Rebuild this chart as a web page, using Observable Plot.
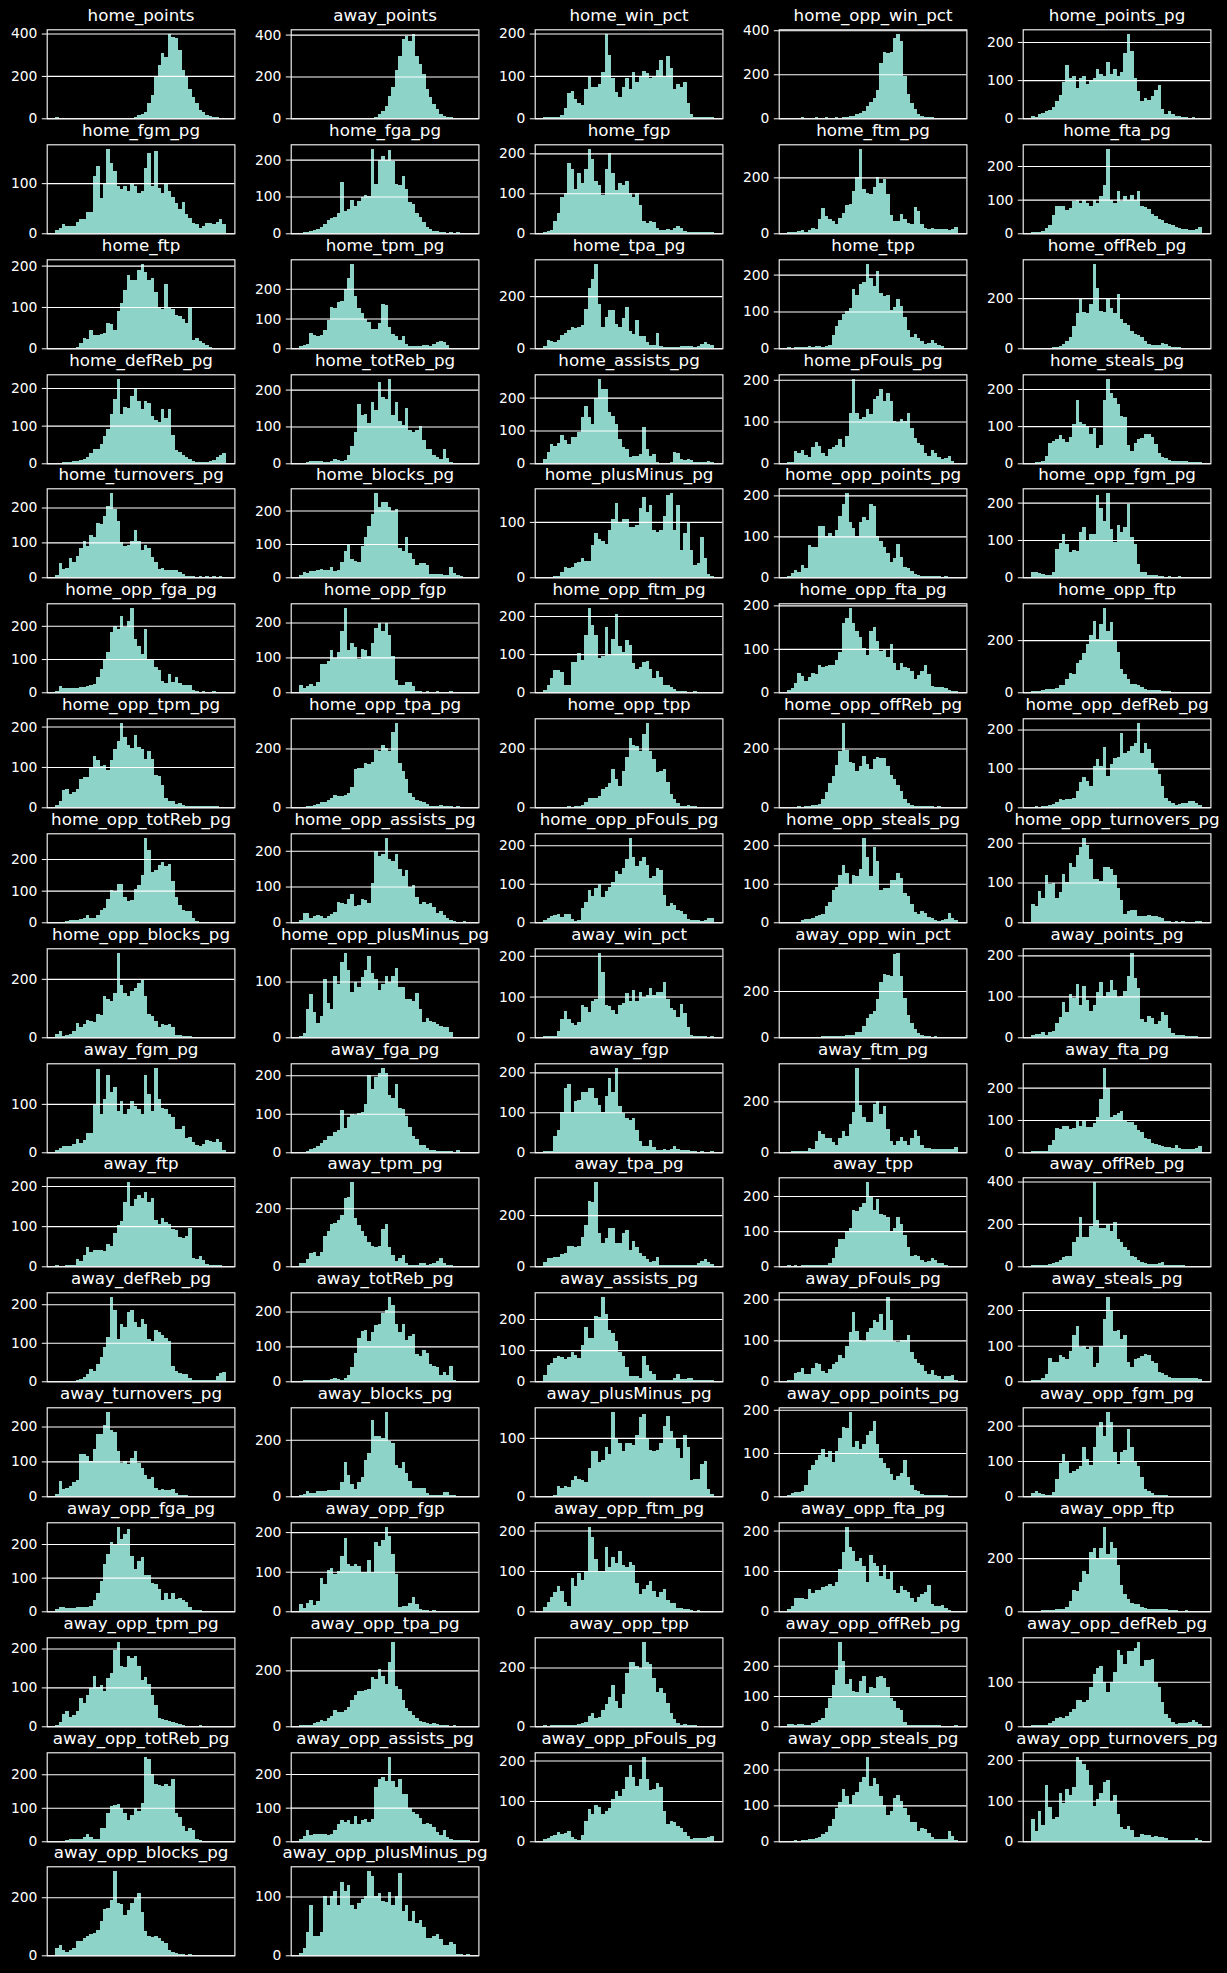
<!DOCTYPE html>
<html><head><meta charset="utf-8">
<script src="https://cdn.jsdelivr.net/npm/d3@7"></script>
<script src="https://cdn.jsdelivr.net/npm/@observablehq/plot@0.6"></script>
<style>
html,body{margin:0;padding:0;background:#000;}
#fig{position:relative;width:1227px;height:1973px;background:#000;overflow:hidden;}
#fig svg{position:absolute;overflow:visible;max-width:none;}
</style></head>
<body><div id="fig"></div>
<script>
const home_points = [4,0,0,0,0,0,0,0,0,0,0,0,0,0,0,0,0,0,0,0,0,2,3,6,15,18,30,70,110,200,250,310,290,400,385,380,320,230,200,140,100,70,40,30,15,10,6,4,3,3];
const away_points = [3,0,0,0,0,0,0,0,0,0,0,0,0,0,0,0,0,0,0,0,0,3,5,20,35,60,105,150,230,300,380,395,370,405,300,260,210,140,100,70,45,22,12,6,4,3,2,2,1,1];
const home_win_pct = [3,3,3,2,3,8,25,60,65,45,35,32,70,100,75,75,80,110,200,150,95,62,50,75,95,70,110,85,100,112,108,95,100,115,138,100,148,118,70,80,75,85,35,10,4,3,4,3,2,2];
const home_opp_win_pct = [3,3,2,3,4,3,2,3,4,3,2,4,3,3,4,3,4,8,10,12,18,25,35,55,75,90,130,250,300,295,300,365,385,350,190,110,70,40,20,12,8,5,4,3,3,2,2,2,1,1];
const home_points_pg = [5,4,10,15,18,22,30,45,60,95,140,105,110,80,105,110,90,100,105,130,115,110,148,115,128,110,120,170,222,175,105,72,45,52,48,58,75,88,25,12,20,10,6,5,4,3,2,3,2,2];
const home_fgm_pg = [6,10,18,15,14,15,22,28,28,42,42,115,135,70,100,169,140,125,95,88,95,85,100,95,80,85,130,160,95,165,90,80,100,85,72,60,48,62,38,30,20,18,11,14,20,21,19,22,28,18];
const home_fga_pg = [2,3,4,5,8,12,18,24,35,42,45,55,140,60,65,90,75,88,98,105,100,230,135,200,210,200,225,195,135,130,155,120,85,80,55,45,32,18,12,7,5,4,3,2,3,2,3,2,2,1];
const home_fgp = [3,5,8,30,50,90,100,175,160,110,150,125,160,212,185,130,120,95,160,200,150,108,125,120,130,100,90,100,70,30,25,30,28,14,9,9,10,8,12,18,12,5,4,3,3,2,2,3,2,3];
const home_ftm_pg = [3,3,5,8,10,6,12,18,15,50,90,62,52,45,32,55,72,100,105,150,200,303,160,145,140,165,200,180,195,140,65,45,45,68,52,38,35,95,80,35,20,15,18,16,17,14,16,10,15,22];
const home_fta_pg = [4,4,5,8,15,25,55,80,80,80,70,75,95,100,90,100,90,80,100,90,110,145,252,100,90,125,95,110,100,115,100,125,80,78,72,58,52,42,40,30,28,25,18,15,13,12,10,11,14,18];
const home_ftp = [1,0,0,0,1,1,2,12,26,22,45,33,33,35,36,60,58,45,90,110,140,178,165,165,190,205,185,165,170,135,100,95,155,100,95,80,78,70,60,100,20,25,18,14,8,2,1,0,0,1];
const home_tpm_pg = [8,12,15,50,45,40,45,60,95,140,135,155,160,200,235,285,175,135,120,100,90,65,65,85,150,145,70,48,40,28,42,15,9,9,9,9,12,10,9,14,20,25,22,12,1,0,1,0,0,1];
const home_tpa_pg = [8,30,28,26,32,50,60,70,80,78,82,90,150,230,265,325,170,80,120,145,148,95,82,115,158,65,55,110,48,48,25,12,12,60,7,6,5,6,5,6,10,8,9,7,5,8,18,24,18,12];
const home_tpp = [3,2,4,3,3,4,5,4,5,5,4,5,10,35,60,78,92,100,110,160,145,175,180,230,190,170,210,150,142,145,105,112,135,115,85,50,30,38,28,20,13,15,22,15,8,5,2,1,1,1];
const home_offReb_pg = [3,3,3,2,3,3,4,5,8,18,28,45,90,140,200,145,140,175,338,240,150,145,195,160,140,215,115,100,92,68,58,52,45,28,18,13,12,14,22,18,8,5,5,4,3,2,2,2,1,2];
const home_defReb_pg = [2,2,3,4,4,6,7,8,12,18,28,38,38,50,72,90,130,170,225,130,150,148,178,200,165,145,165,160,125,115,110,145,120,145,75,35,30,22,18,12,5,4,4,4,4,5,8,18,22,28];
const home_totReb_pg = [2,2,3,5,6,5,5,4,3,5,12,8,5,10,22,48,85,160,130,135,110,165,145,220,180,175,230,130,165,115,105,150,90,85,90,100,62,38,40,22,17,11,40,15,3,2,1,1,0,1];
const home_assists_pg = [12,35,60,52,62,85,70,60,80,80,95,140,175,140,120,200,258,225,225,155,145,120,75,50,45,18,22,22,28,110,45,22,28,5,2,2,2,5,35,30,12,10,14,10,5,4,5,5,6,5];
const home_pFouls_pg = [4,3,30,25,32,20,15,40,52,42,25,18,35,40,45,58,38,65,120,203,120,105,110,130,118,155,160,178,150,168,150,102,98,105,102,120,85,60,48,45,25,18,32,25,14,11,13,18,5,1];
const home_steals_pg = [2,3,3,7,20,55,60,65,75,65,58,70,105,170,110,105,100,80,95,40,50,170,228,190,175,160,128,125,50,32,55,65,68,80,80,70,52,28,17,15,8,7,7,6,6,5,4,4,4,3];
const home_turnovers_pg = [8,42,25,28,55,45,60,85,105,90,120,115,155,152,175,205,243,195,160,100,90,92,105,135,105,78,92,85,58,45,25,28,22,22,22,20,15,9,5,4,3,2,3,2,3,2,3,2,3,2];
const home_blocks_pg = [7,15,14,18,18,22,26,22,22,32,20,22,45,80,100,55,50,45,95,120,155,190,254,210,225,225,210,198,205,88,78,120,72,55,38,42,42,38,10,9,9,9,7,8,30,12,6,4,2,2];
const home_plusMinus_pg = [1,1,1,2,2,10,18,17,18,25,28,35,30,30,58,80,70,65,60,85,105,135,100,105,105,90,90,95,125,145,118,130,85,82,85,110,148,153,85,130,50,80,100,50,22,25,72,35,6,2];
const home_opp_points_pg = [4,10,18,12,30,22,78,75,75,125,125,100,108,100,115,150,180,207,135,120,100,135,148,140,180,175,100,88,75,60,38,48,82,50,25,22,15,9,5,3,2,2,4,3,2,1,2,1,1,1];
const home_opp_fgm_pg = [13,13,12,8,5,5,15,75,92,115,90,68,72,70,120,135,100,115,115,220,185,150,227,130,95,140,120,135,195,108,90,35,15,15,6,5,5,4,3,2,3,2,2,3,2,1,1,1,1,1];
const home_opp_fga_pg = [4,18,13,12,13,12,14,15,16,20,21,25,45,70,100,120,180,200,190,230,195,215,255,160,140,115,190,100,98,75,68,35,28,55,30,45,28,22,22,22,8,3,2,3,2,2,3,2,2,2];
const home_opp_fgp = [22,13,18,25,17,30,82,80,90,120,98,115,175,243,120,140,130,95,125,120,105,140,185,200,175,200,165,105,35,22,22,30,30,18,5,3,2,3,2,2,3,2,2,2,3,2,2,2,2,2];
const home_opp_ftm_pg = [6,18,38,58,58,52,20,20,80,80,102,85,150,222,175,150,90,95,170,100,140,205,120,105,138,125,78,60,65,80,82,60,38,55,40,20,18,15,8,3,4,3,2,2,3,2,2,2,2,2];
const home_opp_fta_pg = [5,10,22,45,38,25,35,45,42,62,58,60,62,62,75,92,160,172,195,160,140,128,102,85,140,150,118,95,100,82,110,68,52,68,58,55,48,30,40,50,62,42,15,12,12,13,10,5,3,2];
const home_opp_ftp = [4,4,5,9,14,13,14,18,28,28,50,75,70,112,125,150,185,220,275,205,260,325,235,270,200,155,88,70,50,30,30,28,21,14,10,10,10,9,6,5,4,3,3,3,2,2,2,2,1,1];
const home_opp_tpm_pg = [6,15,42,45,32,38,45,70,75,75,100,128,118,102,105,92,118,145,165,210,175,155,148,180,150,145,120,140,120,80,78,55,23,15,16,9,11,6,3,3,2,2,2,3,2,2,2,2,1,1];
const home_opp_tpa_pg = [2,2,3,3,8,10,17,18,25,32,42,38,38,42,48,70,130,132,135,152,148,155,195,190,210,200,190,255,288,150,125,95,50,35,26,20,18,10,6,6,6,8,6,4,3,2,3,2,2,2];
const home_opp_tpp = [1,2,1,2,2,2,2,3,2,4,4,7,18,30,30,30,40,62,70,82,130,95,72,125,170,235,210,208,190,250,288,190,165,120,125,130,85,45,28,14,6,5,7,5,3,2,2,1,1,1];
const home_opp_offReb_pg = [2,2,2,3,2,3,4,9,9,11,28,52,82,105,145,190,288,195,155,150,125,140,175,148,130,165,170,168,168,140,110,97,75,55,28,16,9,5,4,3,3,4,3,2,3,2,2,2,2,1];
const home_opp_defReb_pg = [2,3,2,3,3,6,9,14,22,18,22,22,24,42,65,78,68,55,105,125,105,155,80,112,128,130,190,140,145,158,165,218,140,165,150,115,100,85,55,25,15,12,6,8,12,12,15,15,10,5];
const home_opp_totReb_pg = [2,2,2,3,8,8,7,9,15,22,14,13,22,38,45,75,102,100,120,120,80,68,70,105,118,150,268,230,160,165,180,190,178,185,130,80,55,40,35,35,15,5,2,1,1,0,0,0,0,1];
const home_opp_assists_pg = [6,25,25,12,18,20,18,13,18,22,28,58,55,52,65,80,45,48,65,62,55,110,200,185,190,237,178,170,190,150,130,145,100,105,70,50,58,50,55,42,25,32,20,11,6,3,2,2,3,1];
const home_opp_pFouls_pg = [5,10,16,18,21,14,22,22,8,4,5,38,52,85,68,90,100,65,80,92,105,132,125,140,165,220,170,145,160,170,148,115,120,140,135,70,42,50,45,32,30,22,8,5,6,7,4,6,12,10];
const home_opp_steals_pg = [1,1,1,2,5,9,9,11,17,18,22,42,52,85,92,122,150,128,100,122,120,138,220,170,120,195,160,85,88,90,110,110,128,115,75,68,48,28,22,30,25,14,10,5,3,5,8,25,12,6];
const home_opp_turnovers_pg = [45,42,78,60,120,95,98,62,75,122,102,150,138,170,190,213,195,160,110,108,103,138,140,135,118,85,55,22,28,30,30,16,16,16,19,16,15,14,10,3,3,2,3,2,3,2,2,2,4,3];
const home_opp_blocks_pg = [12,22,6,9,12,22,50,35,45,58,57,52,78,75,140,130,125,150,290,180,150,142,160,170,185,195,140,80,72,55,35,45,42,45,35,9,7,4,3,3,2,2,1,1,1,2,1,1,0,1];
const home_opp_plusMinus_pg = [2,8,50,78,45,25,38,105,62,50,110,95,135,152,120,82,100,90,108,120,145,115,105,85,95,110,100,110,125,90,90,68,68,65,80,50,28,35,30,28,24,20,18,18,10,0,0,0,0,1];
const away_win_pct = [2,2,2,3,15,45,65,45,35,30,38,80,75,62,88,95,208,160,80,78,68,58,80,85,108,90,115,88,110,100,105,120,105,110,112,135,95,72,68,50,82,60,25,6,3,2,2,2,1,2];
const away_opp_win_pct = [3,1,1,2,1,2,2,2,2,2,5,6,6,7,6,7,7,8,8,12,22,25,48,85,100,112,165,240,275,270,265,360,366,265,170,95,60,35,18,9,5,4,3,4,3,3,2,2,2,2];
const away_points_pg = [5,7,8,12,6,12,16,35,50,85,62,105,95,130,80,125,90,65,80,110,135,100,110,140,115,98,100,112,150,207,145,120,45,38,52,48,32,40,62,55,22,11,6,5,5,4,4,3,3,1];
const away_fgm_pg = [4,9,14,13,12,18,28,20,25,40,40,100,172,80,110,160,125,135,85,105,80,90,105,95,90,80,160,120,85,175,110,92,90,80,72,48,48,55,30,32,22,15,14,18,25,24,22,28,22,5];
const away_fga_pg = [2,2,3,8,12,16,23,32,42,42,52,58,110,62,92,100,98,102,105,125,200,165,195,205,220,205,150,140,178,115,112,95,65,42,35,20,18,10,6,5,4,3,3,3,3,2,5,2,2,2];
const away_fgp = [2,2,4,40,55,100,160,170,100,128,132,150,150,160,160,135,118,100,140,185,150,212,115,98,85,82,85,55,28,15,15,30,14,6,6,7,6,8,17,9,5,5,5,4,2,1,2,1,1,2];
const away_ftm_pg = [3,4,4,5,4,5,16,12,45,85,70,55,58,42,28,55,85,65,110,160,333,185,140,120,118,190,200,150,180,92,45,28,45,62,45,28,55,88,65,28,15,15,13,12,11,12,11,12,12,22];
const away_fta_pg = [3,3,4,4,5,22,38,75,72,80,80,72,75,100,80,100,78,78,92,110,165,262,200,108,115,120,128,100,95,95,85,68,62,45,40,30,25,22,18,17,15,14,22,12,10,10,10,10,12,18];
const away_ftp = [2,1,1,2,2,4,18,14,28,48,35,40,40,40,38,55,50,82,102,112,160,211,150,168,178,170,185,160,170,115,105,120,110,105,92,90,72,70,75,95,20,18,25,15,6,3,2,2,2,1];
const away_tpm_pg = [10,13,25,45,48,35,50,105,120,145,150,160,178,235,240,292,165,142,120,105,85,70,65,70,130,145,65,40,18,28,40,10,5,5,6,12,10,6,8,10,18,30,12,6,3,2,2,2,1,2];
const away_tpa_pg = [15,32,32,35,38,48,52,80,80,75,78,115,160,255,250,331,130,92,110,150,150,92,92,130,140,65,100,75,52,42,30,18,20,35,6,6,6,7,6,7,6,7,6,6,7,12,22,28,18,10];
const away_tpp = [3,2,3,2,3,4,4,3,5,4,5,4,8,25,55,78,78,98,110,160,158,170,180,241,200,160,190,150,145,140,100,110,140,120,90,55,28,32,28,18,11,15,24,18,10,8,5,2,1,2];
const away_offReb_pg = [5,6,5,5,6,9,14,18,28,42,48,48,115,140,235,140,140,190,400,220,180,180,200,165,210,128,115,92,75,50,42,28,18,14,13,10,10,14,18,8,5,5,5,4,4,2,2,2,2,1];
const away_defReb_pg = [2,2,2,2,2,2,3,6,12,20,32,28,45,62,90,115,220,185,110,150,140,180,185,155,140,162,150,110,105,132,128,120,112,105,40,28,22,20,18,8,4,4,3,4,3,4,4,15,22,25];
const away_totReb_pg = [2,3,3,4,4,3,4,3,4,6,9,6,4,9,18,42,80,125,145,148,115,142,162,165,195,205,243,218,165,142,165,118,130,135,78,72,90,80,50,45,40,18,28,18,45,4,1,1,0,1];
const away_assists_pg = [20,52,58,75,82,78,72,78,95,85,75,115,175,140,140,210,205,272,215,165,155,130,95,82,45,18,18,17,12,80,52,32,22,4,4,3,4,4,12,22,8,6,9,11,4,3,3,3,3,3];
const away_pFouls_pg = [4,4,20,22,32,18,18,32,45,42,25,20,30,42,48,65,58,85,120,170,122,102,98,120,130,150,145,165,125,207,150,98,95,100,100,112,72,55,45,40,25,18,28,15,12,6,14,14,15,3];
const away_steals_pg = [4,4,5,9,20,65,55,55,75,68,62,85,130,155,95,100,92,95,40,50,100,175,238,198,140,145,120,130,55,40,62,65,72,78,75,58,52,27,22,17,11,8,8,8,8,10,10,10,10,6];
const away_turnovers_pg = [8,45,22,25,30,42,48,120,120,115,100,135,178,180,205,243,190,185,130,95,100,92,110,130,95,80,62,50,55,25,18,22,17,18,20,9,5,4,3,2,2,2,2,2,2,2,2,1,2,1];
const away_blocks_pg = [4,8,17,12,12,18,18,18,22,22,22,22,50,120,75,45,25,50,70,130,155,270,215,212,208,300,195,190,110,100,120,82,55,28,28,28,28,10,5,5,5,5,15,15,4,3,2,1,1,1];
const away_plusMinus_pg = [1,1,1,2,18,15,18,16,28,35,30,28,25,48,78,78,58,62,85,72,145,100,92,78,92,92,88,105,135,140,98,80,78,80,92,120,138,112,100,82,65,105,85,28,30,30,55,60,12,4];
const away_opp_points_pg = [3,8,10,11,12,25,60,72,85,95,110,90,105,80,105,135,160,158,196,115,128,110,122,142,150,175,120,88,78,65,52,38,48,55,85,45,25,15,12,5,3,2,3,2,3,2,3,1,1,1];
const away_opp_fgm_pg = [10,14,8,6,5,5,12,50,95,120,100,65,72,78,85,140,105,90,140,195,210,170,240,210,125,92,125,130,190,140,97,85,55,22,15,9,4,4,4,3,2,2,1,2,1,1,1,1,1,1];
const away_opp_fga_pg = [8,12,14,11,11,11,12,12,13,14,15,35,55,90,140,170,205,200,252,215,230,245,165,125,150,160,108,108,85,82,65,35,55,38,55,38,40,35,28,12,4,4,3,2,1,1,1,1,1,1];
const away_opp_fgp = [18,8,22,28,16,25,85,70,105,110,95,102,140,185,120,115,120,115,98,100,130,98,175,165,180,214,190,145,95,12,14,14,22,35,18,5,4,3,2,3,1,1,1,1,1,1,1,1,1,1];
const away_opp_ftm_pg = [10,22,35,48,62,50,22,12,82,62,95,78,100,210,185,130,100,98,160,110,135,120,150,115,110,122,115,70,42,55,65,75,50,35,48,55,28,20,20,9,8,5,5,2,1,2,1,1,1,1];
const away_opp_fta_pg = [5,12,32,32,32,30,55,45,52,52,60,62,68,62,72,105,148,210,160,150,125,132,112,72,140,120,112,88,115,80,100,52,45,62,52,48,32,22,35,42,48,65,18,14,13,15,9,4,1,1];
const away_opp_ftp = [3,3,3,5,5,5,6,7,8,10,18,38,80,75,110,150,140,225,240,195,240,319,215,260,238,175,100,65,48,32,27,28,18,14,10,10,10,10,8,7,5,5,4,3,3,4,2,1,1,1];
const away_opp_tpm_pg = [4,12,32,40,25,30,40,72,60,80,98,130,100,105,92,125,138,195,218,155,152,180,175,180,155,118,128,110,80,55,22,18,15,13,10,8,5,3,2,2,2,2,3,2,1,2,1,1,1,1];
const away_opp_tpa_pg = [5,5,5,6,10,17,22,20,28,38,60,52,52,58,68,95,112,125,125,130,135,175,170,205,180,152,230,303,145,135,95,65,55,42,28,20,14,13,9,10,9,5,3,3,2,3,2,2,2,2];
const away_opp_tpp = [3,2,3,3,3,4,3,4,4,6,8,11,15,35,45,28,32,55,75,100,140,85,62,110,180,220,218,205,198,288,220,210,165,118,130,112,80,45,25,12,6,7,5,5,3,2,2,1,1,1];
const away_opp_offReb_pg = [6,6,5,6,7,5,5,10,15,20,28,60,92,135,185,280,215,140,155,118,112,150,165,110,130,125,162,165,160,130,92,85,60,55,15,4,3,3,3,4,5,3,4,4,3,2,2,2,2,3];
const away_opp_defReb_pg = [2,3,3,3,4,7,11,18,20,18,22,32,38,58,58,55,60,88,118,130,135,100,78,100,122,172,160,140,168,168,175,190,135,148,148,150,100,88,55,28,18,9,5,7,7,8,9,13,10,5];
const away_opp_totReb_pg = [2,2,2,3,6,6,6,8,12,22,14,8,8,40,40,85,105,108,112,100,85,65,78,100,90,115,253,245,200,170,168,165,170,165,185,85,72,45,32,40,35,8,3,2,2,2,2,2,1,2];
const away_opp_assists_pg = [8,15,35,18,22,22,22,22,18,22,35,52,62,58,62,52,75,50,62,65,58,65,162,185,190,180,252,178,160,185,140,140,100,88,82,68,50,55,52,42,28,18,35,13,7,4,3,4,3,3];
const away_opp_pFouls_pg = [5,9,14,16,22,18,20,25,10,5,4,15,50,80,68,90,85,68,75,82,105,125,112,130,160,190,160,138,155,210,155,128,130,145,135,75,42,50,48,38,32,22,12,6,8,9,9,9,11,12];
const away_opp_steals_pg = [2,2,3,2,3,3,7,7,8,12,20,25,42,62,92,110,145,125,105,130,138,165,180,236,155,175,160,125,100,72,85,120,128,112,92,72,55,55,28,38,35,22,12,7,6,6,6,30,15,5];
const away_opp_turnovers_pg = [55,25,75,40,140,85,55,60,120,95,130,115,135,209,200,190,175,140,88,105,120,145,150,100,115,68,35,30,38,28,10,11,18,16,16,11,13,11,11,7,3,2,2,3,3,3,3,4,7,4];
const away_opp_blocks_pg = [25,35,18,10,18,25,48,50,58,65,72,78,88,118,158,162,190,292,180,175,140,155,180,198,215,150,82,68,62,65,60,50,42,18,11,9,4,3,2,3,2,2,2,1,1,1,2,1,1,2];
const away_opp_plusMinus_pg = [4,12,40,85,32,32,40,100,85,100,110,85,125,110,120,85,78,88,95,100,144,135,100,105,92,90,108,85,100,140,75,85,58,75,55,60,48,30,30,32,36,28,17,17,22,20,3,2,1,2];

const panels = [
  ["home_points", home_points], ["away_points", away_points], ["home_win_pct", home_win_pct], ["home_opp_win_pct", home_opp_win_pct], ["home_points_pg", home_points_pg],
  ["home_fgm_pg", home_fgm_pg], ["home_fga_pg", home_fga_pg], ["home_fgp", home_fgp], ["home_ftm_pg", home_ftm_pg], ["home_fta_pg", home_fta_pg],
  ["home_ftp", home_ftp], ["home_tpm_pg", home_tpm_pg], ["home_tpa_pg", home_tpa_pg], ["home_tpp", home_tpp], ["home_offReb_pg", home_offReb_pg],
  ["home_defReb_pg", home_defReb_pg], ["home_totReb_pg", home_totReb_pg], ["home_assists_pg", home_assists_pg], ["home_pFouls_pg", home_pFouls_pg], ["home_steals_pg", home_steals_pg],
  ["home_turnovers_pg", home_turnovers_pg], ["home_blocks_pg", home_blocks_pg], ["home_plusMinus_pg", home_plusMinus_pg], ["home_opp_points_pg", home_opp_points_pg], ["home_opp_fgm_pg", home_opp_fgm_pg],
  ["home_opp_fga_pg", home_opp_fga_pg], ["home_opp_fgp", home_opp_fgp], ["home_opp_ftm_pg", home_opp_ftm_pg], ["home_opp_fta_pg", home_opp_fta_pg], ["home_opp_ftp", home_opp_ftp],
  ["home_opp_tpm_pg", home_opp_tpm_pg], ["home_opp_tpa_pg", home_opp_tpa_pg], ["home_opp_tpp", home_opp_tpp], ["home_opp_offReb_pg", home_opp_offReb_pg], ["home_opp_defReb_pg", home_opp_defReb_pg],
  ["home_opp_totReb_pg", home_opp_totReb_pg], ["home_opp_assists_pg", home_opp_assists_pg], ["home_opp_pFouls_pg", home_opp_pFouls_pg], ["home_opp_steals_pg", home_opp_steals_pg], ["home_opp_turnovers_pg", home_opp_turnovers_pg],
  ["home_opp_blocks_pg", home_opp_blocks_pg], ["home_opp_plusMinus_pg", home_opp_plusMinus_pg], ["away_win_pct", away_win_pct], ["away_opp_win_pct", away_opp_win_pct], ["away_points_pg", away_points_pg],
  ["away_fgm_pg", away_fgm_pg], ["away_fga_pg", away_fga_pg], ["away_fgp", away_fgp], ["away_ftm_pg", away_ftm_pg], ["away_fta_pg", away_fta_pg],
  ["away_ftp", away_ftp], ["away_tpm_pg", away_tpm_pg], ["away_tpa_pg", away_tpa_pg], ["away_tpp", away_tpp], ["away_offReb_pg", away_offReb_pg],
  ["away_defReb_pg", away_defReb_pg], ["away_totReb_pg", away_totReb_pg], ["away_assists_pg", away_assists_pg], ["away_pFouls_pg", away_pFouls_pg], ["away_steals_pg", away_steals_pg],
  ["away_turnovers_pg", away_turnovers_pg], ["away_blocks_pg", away_blocks_pg], ["away_plusMinus_pg", away_plusMinus_pg], ["away_opp_points_pg", away_opp_points_pg], ["away_opp_fgm_pg", away_opp_fgm_pg],
  ["away_opp_fga_pg", away_opp_fga_pg], ["away_opp_fgp", away_opp_fgp], ["away_opp_ftm_pg", away_opp_ftm_pg], ["away_opp_fta_pg", away_opp_fta_pg], ["away_opp_ftp", away_opp_ftp],
  ["away_opp_tpm_pg", away_opp_tpm_pg], ["away_opp_tpa_pg", away_opp_tpa_pg], ["away_opp_tpp", away_opp_tpp], ["away_opp_offReb_pg", away_opp_offReb_pg], ["away_opp_defReb_pg", away_opp_defReb_pg],
  ["away_opp_totReb_pg", away_opp_totReb_pg], ["away_opp_assists_pg", away_opp_assists_pg], ["away_opp_pFouls_pg", away_opp_pFouls_pg], ["away_opp_steals_pg", away_opp_steals_pg], ["away_opp_turnovers_pg", away_opp_turnovers_pg],
  ["away_opp_blocks_pg", away_opp_blocks_pg], ["away_opp_plusMinus_pg", away_opp_plusMinus_pg]
];

// matplotlib-like MaxNLocator (nbins = 3, steps 1, 2, 2.5, 5, 10)
function autoTicks(vmax) {
  const raw = vmax / 3;
  const scale = Math.pow(10, Math.floor(Math.log10(raw)));
  const step = [1, 2, 2.5, 5, 10].map(m => m * scale).find(s => s >= raw - 1e-9);
  const t = [];
  for (let k = 0; k * step <= vmax + 1e-9; k++) t.push(k * step);
  return t;
}

const COLW = 244, ROWH = 114.84;
const ML = 46.7, MR = 9.6, MT = 29.3, PH = 89, MB = 12;
const BAR = "#8dd3c7";
const fig = document.getElementById("fig");

panels.forEach(([name, vals], k) => {
  const r = Math.floor(k / 5), c = k % 5;
  const n = vals.length;
  const data = vals.map((v, i) => ({i, i2: i + 1, v}));
  const ymax = d3.max(vals) * 1.05;
  const ticks = autoTicks(ymax);
  const svg = Plot.plot({
    width: COLW,
    height: MT + PH + MB,
    marginLeft: ML, marginRight: MR, marginTop: MT, marginBottom: MB,
    style: {background: "transparent", color: "white", fontFamily: "DejaVu Sans, sans-serif", fontSize: "13.9px", overflow: "visible"},
    x: {domain: [-0.05 * n, 1.05 * n], axis: null},
    y: {domain: [0, ymax], ticks, tickFormat: d3.format("d"), tickSize: 4.9, tickPadding: 4.9, label: null},
    marks: [
      Plot.rectY(data, {x1: "i", x2: "i2", y: "v", fill: BAR, inset: 0, shapeRendering: "crispEdges"}),
      Plot.ruleY(ticks, {stroke: "white", strokeWidth: 1.1}),
      Plot.frame({stroke: "white", strokeWidth: 1.1}),
      Plot.text([name], {text: d => d, frameAnchor: "top", dy: -8.3, lineAnchor: "bottom", fontSize: 16.7, fill: "white"})
    ]
  });
  svg.style.position = "absolute";
  svg.style.left = (c * COLW) + "px";
  svg.style.top = (r * ROWH) + "px";
  fig.appendChild(svg);
});
</script>
</body></html>
